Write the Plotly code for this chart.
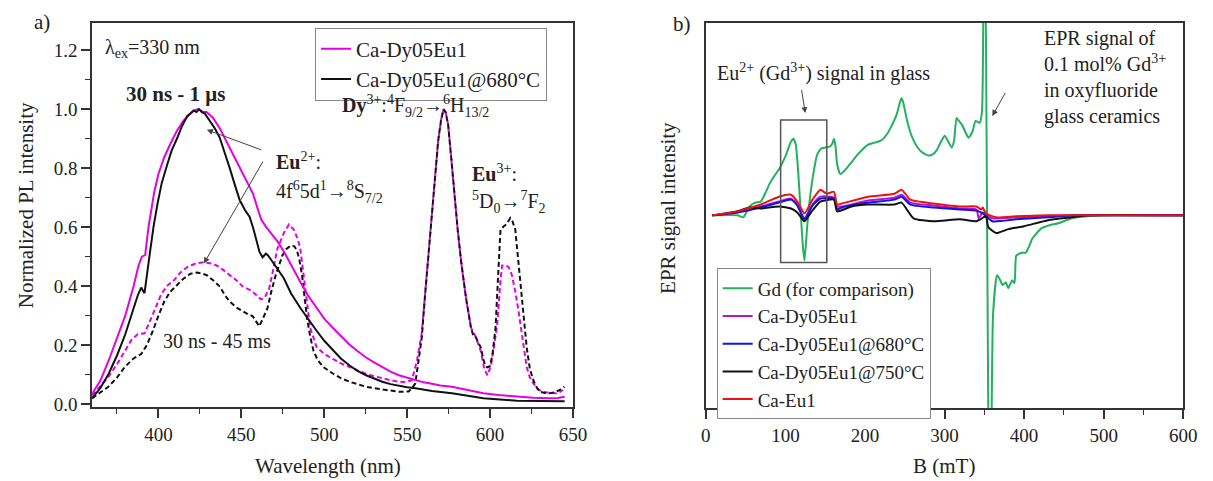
import plotly.graph_objects as go

# ---------------- Panel a: normalized PL spectra ----------------
pl_tick_x = [400, 450, 500, 550, 600, 650]
pl_tick_y = [0.0, 0.2, 0.4, 0.6, 0.8, 1.0, 1.2]

# Ca-Dy05Eu1, gate 30 ns - 1 us (solid magenta)
pl_mag_solid_x = [360, 365, 370, 375, 380, 385, 388, 390, 392, 394, 397.5, 400, 403.5, 407, 411, 415, 419, 421,
                  424, 427, 429, 433, 437, 441, 445, 449, 453, 457, 460, 462, 465, 468, 472, 476, 481, 486, 490,
                  495, 500, 505, 510, 515, 520, 525, 530, 535, 540, 545, 550, 555, 560, 565, 570, 577, 585, 590,
                  596, 605, 616, 626, 636, 641, 645]
pl_mag_solid_y = [0.035, 0.08, 0.148, 0.225, 0.30, 0.40, 0.47, 0.50, 0.505, 0.60, 0.72, 0.78, 0.837, 0.88, 0.925,
                  0.96, 0.985, 0.995, 1.0, 0.99, 0.99, 0.97, 0.935, 0.89, 0.845, 0.80, 0.76, 0.714, 0.66, 0.626,
                  0.60, 0.58, 0.55, 0.514, 0.46, 0.41, 0.37, 0.33, 0.29, 0.26, 0.23, 0.203, 0.18, 0.159, 0.142,
                  0.126, 0.11, 0.098, 0.09, 0.081, 0.074, 0.069, 0.063, 0.059, 0.05, 0.045, 0.037, 0.031, 0.026,
                  0.022, 0.02, 0.021, 0.025]

# Ca-Dy05Eu1@680C, gate 30 ns - 1 us (solid black)
pl_blk_solid_x = [360, 365, 370, 375, 380, 385, 387.6, 389.6, 391.6, 394.6, 397, 399.5, 402, 405.4, 408, 411.4,
                  414, 417.3, 419, 421.3, 423, 424.5, 426.2, 428, 431, 434, 437, 440, 443, 446, 449, 452, 455,
                  457, 459, 461, 462.8, 464.8, 466, 467.8, 471, 475.7, 480, 485.6, 490, 495.5, 500, 505.4, 510,
                  515.3, 520, 525.2, 530, 535, 540, 545, 550, 555, 560, 565, 577, 586, 596, 606, 616, 630, 645]
pl_blk_solid_y = [0.02, 0.055, 0.103, 0.165, 0.237, 0.32, 0.37, 0.395, 0.376, 0.503, 0.60, 0.681, 0.75, 0.814,
                  0.86, 0.903, 0.94, 0.976, 0.985, 0.995, 0.99, 1.0, 0.99, 0.985, 0.96, 0.935, 0.903, 0.855, 0.80,
                  0.745, 0.692, 0.66, 0.635, 0.60, 0.56, 0.515, 0.498, 0.51, 0.505, 0.492, 0.465, 0.426, 0.375,
                  0.326, 0.29, 0.248, 0.215, 0.181, 0.155, 0.131, 0.113, 0.098, 0.086, 0.076, 0.068, 0.062, 0.057,
                  0.054, 0.049, 0.045, 0.037, 0.028, 0.02, 0.016, 0.012, 0.011, 0.01]

# Ca-Dy05Eu1, gate 30 ns - 45 ms (dashed magenta)
pl_mag_dash_x = [360, 365, 369.8, 375, 379.7, 384, 387.6, 391.6, 394, 396.6, 401.5, 405, 409.4, 413, 417.3, 422,
                 427.2, 431, 435.1, 439, 443, 447, 451, 456, 459, 461.8, 464, 466.8, 469, 471.7, 475.7, 478.7,
                 481.6, 484, 485.6, 487, 488.6, 491.5, 495.5, 500, 505.4, 510, 515.3, 520, 525.2, 530, 535, 540,
                 545, 549, 552.9, 556, 558.8, 560.8, 562.8, 564.8, 566.8, 568.7, 570.5, 572, 573.2, 574.7, 576.5,
                 578.6, 580.5, 582.6, 585.5, 588.5, 591.5, 594.4, 596.5, 598.4, 600.5, 602.5, 604.3, 606.3, 607.3,
                 609.5, 611.2, 613.2, 615.3, 617.2, 619.5, 622.1, 624, 626.1, 629, 632, 636, 639.9, 642, 644]
pl_mag_dash_y = [0.03, 0.06, 0.092, 0.135, 0.181, 0.22, 0.237, 0.24, 0.27, 0.303, 0.37, 0.40, 0.42, 0.445, 0.464,
                 0.476, 0.481, 0.478, 0.47, 0.455, 0.437, 0.42, 0.398, 0.385, 0.37, 0.355, 0.36, 0.392, 0.45, 0.526,
                 0.581, 0.609, 0.592, 0.56, 0.526, 0.46, 0.381, 0.259, 0.192, 0.17, 0.153, 0.138, 0.126, 0.114,
                 0.103, 0.095, 0.087, 0.081, 0.076, 0.075, 0.081, 0.15, 0.24, 0.37, 0.503, 0.648, 0.78, 0.892,
                 0.965, 1.0, 0.99, 0.948, 0.84, 0.703, 0.59, 0.481, 0.36, 0.259, 0.226, 0.18, 0.12, 0.098, 0.13,
                 0.2, 0.27, 0.42, 0.47, 0.47, 0.464, 0.437, 0.38, 0.314, 0.22, 0.126, 0.09, 0.07, 0.05, 0.042,
                 0.038, 0.037, 0.041, 0.048]

# Ca-Dy05Eu1@680C, gate 30 ns - 45 ms (dashed black)
pl_blk_dash_x = [360, 365, 369.8, 375, 379.7, 385, 389.6, 393, 396.6, 400, 403.5, 407, 411.4, 415, 419.3, 423.3,
                 426, 429.2, 433, 437.1, 440, 443, 447, 451, 454, 456.9, 459, 460.8, 463, 465.8, 468, 470.7, 474.7,
                 477, 479.7, 482, 483.6, 485, 486.6, 488, 489.6, 491.5, 493.5, 496, 499.4, 505.4, 510, 515.3, 520,
                 525.2, 530, 535, 540, 545, 550.9, 553, 554.9, 556.8, 558.8, 560.8, 562.8, 564.8, 566.8, 568.7,
                 570.5, 572, 573.2, 574.7, 576.5, 578.6, 580.5, 582.6, 585.5, 588.5, 590, 591.5, 594.4, 596, 597.4,
                 598.5, 600, 601.5, 603.3, 605, 606.3, 608.3, 610, 612.2, 613.5, 615.2, 616.7, 618.2, 620, 622.1,
                 624, 626.1, 628, 630, 633, 636, 639, 642, 644.9]
pl_blk_dash_y = [0.02, 0.04, 0.059, 0.09, 0.126, 0.155, 0.17, 0.2, 0.248, 0.3, 0.348, 0.38, 0.403, 0.425, 0.442,
                 0.446, 0.443, 0.437, 0.42, 0.398, 0.37, 0.348, 0.328, 0.314, 0.305, 0.298, 0.28, 0.264, 0.29,
                 0.326, 0.38, 0.437, 0.503, 0.525, 0.537, 0.535, 0.52, 0.49, 0.437, 0.36, 0.292, 0.23, 0.181, 0.15,
                 0.126, 0.103, 0.088, 0.076, 0.067, 0.059, 0.054, 0.05, 0.046, 0.042, 0.043, 0.055, 0.07, 0.14,
                 0.224, 0.37, 0.503, 0.648, 0.78, 0.892, 0.965, 1.0, 0.99, 0.948, 0.84, 0.703, 0.59, 0.481, 0.36,
                 0.259, 0.23, 0.226, 0.192, 0.15, 0.128, 0.125, 0.13, 0.17, 0.259, 0.45, 0.592, 0.603, 0.61, 0.631,
                 0.62, 0.592, 0.5, 0.414, 0.3, 0.192, 0.12, 0.081, 0.058, 0.042, 0.038, 0.037, 0.04, 0.048, 0.059]

# ---------------- Panel b: EPR spectra (arbitrary units) ----------------
epr_tick_x = [0, 100, 200, 300, 400, 500, 600]

epr_gd_x = [8, 40, 47, 55, 62, 69, 75, 80, 86, 92, 100, 107, 110, 113, 116, 119, 122, 124, 127, 130, 135, 140,
            145, 150, 156, 159, 161, 163, 165, 169, 175, 183, 192, 204, 212, 220, 228, 234, 240, 244, 246, 248,
            253, 259, 266, 272, 279, 285, 290, 295, 300, 304, 309, 312, 315, 317, 320, 322, 326, 330, 335, 339,
            344, 347, 350, 357, 361, 366, 370, 373, 377, 380, 385, 388, 390, 394, 397, 402, 406, 410, 416, 422,
            432, 443, 460, 480, 500, 600]
epr_gd_y = [0.0, 0.0, -0.2, 0.9, 1.3, 1.4, 2.3, 3.2, 4.0, 4.7, 6.0, 7.5, 7.8, 7.2, 4.5, 0.6, -3.2, -4.6, -1.5,
            1.2, 4.2, 6.2, 6.8, 6.9, 7.0, 7.3, 7.8, 7.0, 5.2, 4.2, 4.6, 5.4, 6.3, 7.2, 7.4, 7.6, 8.3, 9.2, 10.3,
            11.5, 11.9, 11.5, 9.6, 8.0, 6.9, 6.4, 6.1, 6.2, 6.6, 7.4, 8.1, 7.6, 6.9, 7.6, 9.9, 9.7, 9.4, 9.2, 8.5,
            7.9, 8.5, 9.6, 9.4, 10.5, 40.0, -40.0, -10.0, -6.1, -6.6, -7.1, -6.8, -7.4, -6.6, -6.9, -4.1, -3.9,
            -3.8, -3.8, -3.2, -2.4, -1.8, -1.3, -1.0, -0.8, -0.3, -0.1, 0.0, 0.0]

epr_dy_x = [8, 39, 69, 92, 107, 115, 124, 134, 144, 161, 165, 171, 204, 237, 246, 257, 286, 319, 340, 343, 348,
            360, 390, 430, 465, 600]
epr_dy_y = [0.0, 0.3, 0.9, 1.4, 1.7, 1.1, -0.3, 1.1, 1.9, 1.8, 0.9, 0.9, 1.5, 1.8, 2.1, 1.3, 1.0, 0.7, 0.6, -0.3,
            0.3, -0.3, -0.2, -0.1, 0.0, 0.0]

epr_680_x = [8, 39, 69, 92, 107, 115, 124, 134, 144, 161, 165, 171, 204, 237, 246, 257, 286, 319, 340, 348, 360,
             390, 430, 465, 600]
epr_680_y = [0.0, 0.3, 0.8, 1.3, 1.6, 1.0, -0.4, 1.0, 1.7, 1.7, 0.6, 0.8, 1.3, 1.6, 1.9, 1.1, 0.8, 0.6, 0.5, 0.2,
             -0.6, -0.4, -0.2, 0.0, 0.0]

epr_750_x = [8, 39, 55, 69, 92, 107, 115, 124, 134, 144, 161, 165, 183, 204, 237, 246, 261, 286, 319, 340, 345,
             352, 355, 365, 380, 400, 430, 460, 480, 600]
epr_750_y = [0.0, 0.4, 0.8, 0.7, 0.9, 0.7, 0.3, -0.6, 0.5, 1.4, 1.6, 0.4, 0.9, 1.1, 1.1, 1.3, -0.3, -0.6, -0.4,
             -0.6, -0.4, -0.1, -1.2, -1.8, -1.4, -1.1, -0.5, -0.2, 0.0, 0.0]

epr_eu_x = [8, 39, 69, 92, 107, 115, 124, 134, 144, 152, 161, 165, 171, 204, 237, 246, 257, 286, 319, 340, 346,
            348, 352, 365, 390, 430, 465, 600]
epr_eu_y = [0.0, 0.4, 1.1, 1.9, 2.1, 1.4, 0.2, 1.6, 2.6, 2.2, 2.4, 1.1, 1.2, 1.9, 2.2, 2.6, 1.6, 1.2, 0.9, 0.9,
            0.6, 0.8, 0.2, -0.2, -0.1, 0.0, 0.0, 0.0]

FONT = "Liberation Serif, Times New Roman, Times, serif"
MAG_A = "#e600e6"
DASH = "5px,3px"
TXT = "#222222"

fig = go.Figure()

# panel a traces
fig.add_trace(go.Scatter(x=pl_mag_dash_x, y=pl_mag_dash_y, mode="lines", showlegend=False,
                         line=dict(color=MAG_A, width=2, dash=DASH), xaxis="x", yaxis="y"))
fig.add_trace(go.Scatter(x=pl_blk_dash_x, y=pl_blk_dash_y, mode="lines", showlegend=False,
                         line=dict(color="#111111", width=2, dash=DASH), xaxis="x", yaxis="y"))
fig.add_trace(go.Scatter(x=pl_mag_solid_x, y=pl_mag_solid_y, mode="lines", name="Ca-Dy05Eu1",
                         line=dict(color=MAG_A, width=2), xaxis="x", yaxis="y", legend="legend"))
fig.add_trace(go.Scatter(x=pl_blk_solid_x, y=pl_blk_solid_y, mode="lines", name="Ca-Dy05Eu1@680°C",
                         line=dict(color="#111111", width=2), xaxis="x", yaxis="y", legend="legend"))

# panel b traces
epr_series = [
    ("Gd (for comparison)", epr_gd_x, epr_gd_y, "#22b15e"),
    ("Ca-Dy05Eu1", epr_dy_x, epr_dy_y, "#b517c8"),
    ("Ca-Dy05Eu1@680°C", epr_680_x, epr_680_y, "#1010f0"),
    ("Ca-Dy05Eu1@750°C", epr_750_x, epr_750_y, "#111111"),
    ("Ca-Eu1", epr_eu_x, epr_eu_y, "#ee1111"),
]
for name, xs, ys, col in epr_series:
    fig.add_trace(go.Scatter(x=xs, y=ys, mode="lines", name=name,
                             line=dict(color=col, width=2, shape="spline", smoothing=0.5),
                             xaxis="x2", yaxis="y2", legend="legend2"))

axis_common = dict(showline=True, linecolor="#333333", linewidth=1.5, mirror=True, showgrid=False,
                   zeroline=False, ticks="outside", ticklen=9, tickwidth=1.5, tickcolor="#333333",
                   tickfont=dict(family=FONT, size=19, color=TXT))

W, H = 1213, 481
def px_x(p):
    return p / W
def px_y(p):
    return 1 - p / H

fig.update_layout(
    width=W, height=H, margin=dict(l=0, r=0, t=0, b=0),
    paper_bgcolor="white", plot_bgcolor="white",
    font=dict(family=FONT, size=19, color=TXT),
    xaxis=dict(domain=[px_x(88.5), px_x(577)], range=[360, 650], tickmode="array", tickvals=pl_tick_x,
               ticktext=[str(v) for v in pl_tick_x],
               minor=dict(tickmode="linear", tick0=0, dtick=25, ticks="outside", ticklen=5, tickwidth=1.2,
                          tickcolor="#333333"),
               anchor="y", **axis_common),
    yaxis=dict(domain=[px_y(414), px_y(23)], range=[-0.01, 1.2933], tickmode="array", tickvals=pl_tick_y,
               ticktext=[f"{v:.1f}" for v in pl_tick_y],
               minor=dict(tickmode="linear", tick0=0, dtick=0.1, ticks="outside", ticklen=5, tickwidth=1.2,
                          tickcolor="#333333"),
               anchor="x", **axis_common),
    xaxis2=dict(domain=[px_x(712), px_x(1197)], range=[0, 600], tickmode="array", tickvals=epr_tick_x,
                ticktext=[str(v) for v in epr_tick_x],
                minor=dict(tickmode="linear", tick0=0, dtick=50, ticks="outside", ticklen=5, tickwidth=1.2,
                           tickcolor="#333333"),
                anchor="y2", **axis_common),
    yaxis2=dict(domain=[px_y(415), px_y(23)], range=[-19.6, 19.6], showline=True, linecolor="#333333",
                linewidth=1.5, mirror=True, showgrid=False, zeroline=False, ticks="", showticklabels=False,
                anchor="x2"),
    legend=dict(x=px_x(315), y=px_y(28), xanchor="left", yanchor="top", bgcolor="white",
                bordercolor="#888888", borderwidth=1, font=dict(family=FONT, size=21, color=TXT),
                tracegroupgap=0),
    legend2=dict(x=px_x(723), y=px_y(273), xanchor="left", yanchor="top", bgcolor="white",
                 bordercolor="#888888", borderwidth=1, font=dict(family=FONT, size=19, color=TXT),
                 tracegroupgap=0),
)

ann = []
def txt(text, x, y, xref, yref, size=20, xanchor="left", yanchor="middle", angle=0):
    ann.append(dict(text=text, x=x, y=y, xref=xref, yref=yref, showarrow=False, xanchor=xanchor,
                    yanchor=yanchor, textangle=angle, align="left",
                    font=dict(family=FONT, size=size, color=TXT)))

def arrow(x, y, ax, ay, xref, yref):
    ann.append(dict(text="", x=x, y=y, ax=ax, ay=ay, xref=xref, yref=yref, axref=xref, ayref=yref,
                    showarrow=True, arrowhead=2, arrowsize=1.2, arrowwidth=1, arrowcolor="#444444"))

# panel labels and axis titles
txt("a)", px_x(38), px_y(22), "paper", "paper", size=21, xanchor="center")
txt("b)", px_x(688), px_y(24), "paper", "paper", size=21, xanchor="center")
txt("Normalized PL intensity", px_x(21), px_y(209), "paper", "paper", size=21, xanchor="center", angle=-90)
txt("Wavelength (nm)", px_x(328), px_y(474), "paper", "paper", size=21, xanchor="center")
txt("EPR signal intensity", px_x(674), px_y(211), "paper", "paper", size=21, xanchor="center", angle=-90)
txt("B (mT)", px_x(954), px_y(474), "paper", "paper", size=21, xanchor="center")

# panel a annotations
txt("λ<sub>ex</sub>=330 nm", 366.8, 1.205, "x", "y")
txt("<b>30 ns - 1 μs</b>", 410.2, 1.053, "x", "y", size=21, xanchor="center")
txt("<b>Dy</b><sup>3+</sup>:<sup>4</sup>F<sub>9/2</sub>→<sup>6</sup>H<sub>13/2</sub>", 509.3, 1.01, "x", "y")
txt("<b>Eu</b><sup>2+</sup>:", 469.6, 0.825, "x", "y")
txt("4f<sup>6</sup>5d<sup>1</sup>→<sup>8</sup>S<sub>7/2</sub>", 469.6, 0.72, "x", "y")
txt("<b>Eu</b><sup>3+</sup>:", 588.1, 0.785, "x", "y")
txt("<sup>5</sup>D<sub>0</sub>→<sup>7</sup>F<sub>2</sub>", 588.1, 0.685, "x", "y")
txt("30 ns - 45 ms", 401.3, 0.213, "x", "y")
arrow(429.2, 0.93, 463.0, 0.86, "x", "y")
arrow(427.4, 0.477, 463.5, 0.827, "x", "y")

# panel b annotations
txt("Eu<sup>2+</sup> (Gd<sup>3+</sup>) signal in glass", 11, 14.5, "x2", "y2")
arrow(125, 10.4, 120, 12.9, "x2", "y2")
txt("EPR signal of<br>0.1 mol% Gd<sup>3+</sup><br>in oxyfluoride<br>glass ceramics", 423, 14.0, "x2", "y2")
arrow(360, 10.1, 377.3, 12.6, "x2", "y2")

fig.update_layout(annotations=ann)
fig.add_shape(type="rect", xref="x2", yref="y2", x0=94, x1=152, y0=-4.8, y1=9.7,
              line=dict(color="#555555", width=1.5))

fig.write_html("out.html")
